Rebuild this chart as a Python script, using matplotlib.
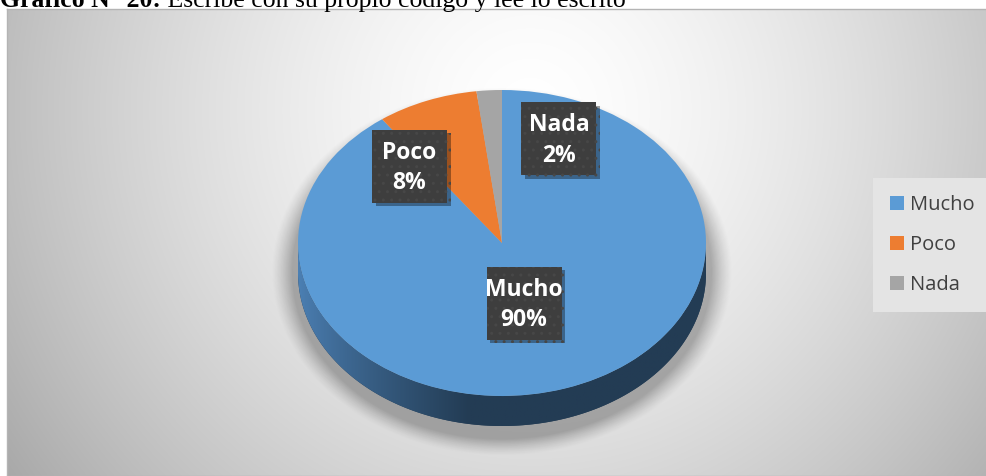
import matplotlib

matplotlib.use("Agg")
import matplotlib.pyplot as plt  # noqa: E402
import matplotlib.patheffects as pe  # noqa: E402
import numpy as np  # noqa: E402
from matplotlib.patches import Patch, Polygon, Rectangle  # noqa: E402

# data
categories = ["Mucho", "Poco", "Nada"]
percent = [90, 8, 2]
colors = ["#5b9bd5", "#ed7d31", "#a5a5a5"]
side_colors = ["#233c54", "#a0501c", "#6e6e6e"]
title_bold = "Gráfico N° 20:"
title_rest = " Escribe con su propio código y lee lo escrito"

# label box centres in unit-pie coords (layout only)
label_pos = [(0.108, -0.395), (-0.453, 0.50), (0.279, 0.68)]

W, H = 987, 476
fig = plt.figure(figsize=(W / 100, H / 100), dpi=100)
fig.patch.set_facecolor("white")

# chart area background with radial gradient
bx0, by0, bx1, by1 = 7, 9, 987, 476
ax_bg = fig.add_axes([bx0 / W, 0, (bx1 - bx0) / W, (by1 - by0) / H])
xx, yy = np.meshgrid(np.arange(bx0, bx1), np.arange(by0, by1))
r = np.hypot(xx - 530, (yy - 110) * 1.0)
val = 1 - 0.25 * np.clip(r / 520, 0, 1.3) ** 1.5
ax_bg.imshow(np.dstack([val] * 3), aspect="auto", extent=[0, 1, 0, 1], origin="upper")
ax_bg.set_xticks([])
ax_bg.set_yticks([])
for s in ax_bg.spines.values():
    s.set_color("#b4b4b4")
    s.set_linewidth(1)

# pie axes: unit circle maps onto ellipse a x b pixels
cx, cy, a, b, depth = 502, 243, 204, 153, 30
M = 1.5
ax = fig.add_axes([(cx - M * a) / W, (H - (cy + M * b)) / H, 2 * M * a / W, 2 * M * b / H])
ax.patch.set_visible(False)
d = depth / b

# soft shadow below the pie, pushed downwards
gx, gy = np.meshgrid(np.linspace(-M, M, 600), np.linspace(M, -M, 450))
px, py = gx * a, gy * b + depth / 2 + 14
dist = (np.sqrt((px / (a + 6)) ** 2 + (py / (b + depth / 2)) ** 2) - 1) * 160
sh = np.clip(1 - dist / 16, 0, 1) ** 1.3 * 0.28
sh_img = np.zeros((450, 600, 4))
sh_img[..., 3] = sh
ax.imshow(sh_img, extent=[-M, M, -M, M], aspect="auto", zorder=0.2)

# top face with the library pie
wedges, _ = ax.pie(percent, colors=colors, startangle=90, counterclock=False,
                   radius=1, center=(0, 0), wedgeprops=dict(edgecolor="none"))
for w in wedges:
    w.set_zorder(2)

# side walls of the front half
fr = np.cumsum([0] + percent) / sum(percent)
for i in range(len(percent)):
    t0 = 90 - 360 * fr[i + 1]
    t1 = 90 - 360 * fr[i]
    for shift in (0, 360, -360, 720):
        lo, hi = max(t0 + shift, 180), min(t1 + shift, 360)
        if hi <= lo:
            continue
        th = np.radians(np.linspace(lo, hi, 200))
        top = np.column_stack([np.cos(th), np.sin(th)])
        bot = np.column_stack([np.cos(th), np.sin(th) - d])[::-1]
        poly = Polygon(np.vstack([top, bot]), closed=True, fc=side_colors[i], ec="none", zorder=1)
        ax.add_patch(poly)
        if i == 0:
            # light from the left on the blue side
            grad = np.linspace(0, 1, 300)
            c0 = np.array([0x4c, 0x80, 0xb4]) / 255
            c1 = np.array([0x23, 0x3c, 0x54]) / 255
            k = np.clip(grad / 0.42, 0, 1) ** 0.8
            img = (c0[None, :] * (1 - k[:, None]) + c1[None, :] * k[:, None])[None, :, :]
            im = ax.imshow(img, extent=[-1, 1, -1 - d, 0], aspect="auto", zorder=1.1)
            im.set_clip_path(poly)

ax.set_aspect("auto")
ax.set_xlim(-M, M)
ax.set_ylim(-M, M)
ax.axis("off")

# data labels in dark boxes (75 x 73 px)
bw, bh = 75 / a, 73 / b
for name, p, (lx, ly) in zip(categories, percent, label_pos):
    box = Rectangle((lx - bw / 2, ly - bh / 2), bw, bh, fc="#3e3e3e", ec="#474747",
                    lw=0, hatch="..", zorder=4)
    box.set_path_effects([pe.withSimplePatchShadow(offset=(2.5, -2.5), shadow_rgbFace="black",
                                                   alpha=0.35), pe.Normal()])
    ax.add_patch(box)
    ax.text(lx, ly - 0.01, f"{name}\n{p}%", ha="center", va="center", color="white",
            fontsize=16.5, fontweight="bold", family="Open Sans", linespacing=1.38,
            zorder=5)

# legend
handles = [Patch(fc=c, ec="none") for c in colors]
leg = fig.legend(handles, categories, loc="center left",
                 bbox_to_anchor=(873 / W, 1 - 245 / H), frameon=True, fancybox=False,
                 prop=dict(family="Open Sans", size=14.5), labelcolor="#404040",
                 handlelength=0.7, handleheight=0.7, handletextpad=0.3,
                 labelspacing=1.0, borderpad=0.85, borderaxespad=0)
leg.get_frame().set_facecolor("#e4e4e4")
leg.get_frame().set_edgecolor("none")
leg.get_frame().set_alpha(1)

# title, partially cut at the top as in the source
ty = 1 - 7 / H
t1 = fig.text(0.0, ty, title_bold, fontsize=18.5, fontweight="bold",
              family="Liberation Serif", va="baseline", ha="left")
fig.canvas.draw()
x_end = t1.get_window_extent().x1 / W
fig.text(x_end, ty, title_rest, fontsize=18.5, family="Liberation Serif",
         va="baseline", ha="left")

fig.savefig("out.png", dpi=100)
